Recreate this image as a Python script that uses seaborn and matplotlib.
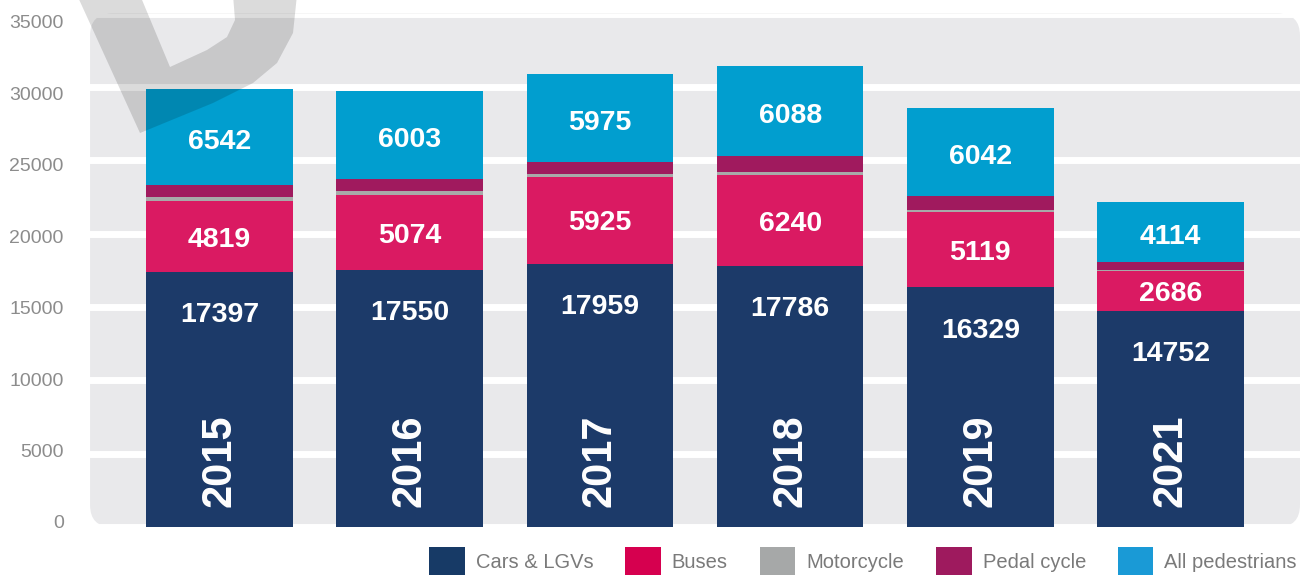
import pandas as pd
import seaborn as sns
import matplotlib.pyplot as plt
from matplotlib.patches import FancyBboxPatch, Polygon, Patch

# Dados por ano
anos = ['2015', '2016', '2017', '2018', '2019', '2021']
carros = [17397, 17550, 17959, 17786, 16329, 14752]
onibus = [4819, 5074, 5925, 6240, 5119, 2686]
motos = [270, 270, 200, 200, 140, 70]
bicicletas = [820, 820, 820, 1090, 950, 540]
pedestres = [6542, 6003, 5975, 6088, 6042, 4114]

df = pd.DataFrame({'ano': anos, 'carros': carros, 'onibus': onibus,
                   'motos': motos, 'bicicletas': bicicletas, 'pedestres': pedestres})
colunas = ['carros', 'onibus', 'motos', 'bicicletas', 'pedestres']
acumulado = df[colunas].cumsum(axis=1)

cores_barras = {'carros': '#1C3A69', 'onibus': '#DA1A62', 'motos': '#A8A9A9',
                'bicicletas': '#A01A5E', 'pedestres': '#019ECF'}
legenda = [('Cars & LGVs', '#173A66'), ('Buses', '#D6004F'), ('Motorcycle', '#A6A8A8'),
           ('Pedal cycle', '#9E1A5E'), ('All pedestrians', '#1A9AD6')]

fig = plt.figure(figsize=(13.09, 5.76), dpi=100, facecolor='white')
ax = fig.add_axes([0.0688, 0.0851, 0.9243, 0.8913])
ax.patch.set_visible(False)

# Fundo cinza com cantos arredondados
pos = ax.get_position()
W, H = fig.get_size_inches()
painel = FancyBboxPatch((pos.x0 * W, pos.y0 * H), pos.width * W, pos.height * H,
                        boxstyle='round,pad=0,rounding_size=0.22',
                        transform=fig.dpi_scale_trans, fc='#E9E9EB', ec='none', zorder=-1)
fig.add_artist(painel)

# Barras empilhadas: desenha do total para baixo
for col in reversed(colunas):
    sns.barplot(x=df['ano'], y=acumulado[col], color=cores_barras[col], width=0.77,
                saturation=1, errorbar=None, linewidth=0, ax=ax)

ax.set_xlim(-0.68, 5.68)
ax.set_ylim(0, 35000)
ax.set_yticks(range(0, 35001, 5000))
ax.set_xticks([])
ax.set_xlabel('')
ax.set_ylabel('')
sns.despine(ax=ax, left=True, bottom=True)
ax.yaxis.grid(True, color='white', linewidth=5)
ax.set_axisbelow(True)
ax.tick_params(axis='y', length=0, labelleft=False)

# Eixo so para os rotulos do eixo y (na imagem original ficam um pouco fora das linhas)
ax_lbl = fig.add_axes([0.0688, 54 / 576, 0.9243, 500 / 576])
ax_lbl.patch.set_visible(False)
ax_lbl.set_ylim(0, 35000)
ax_lbl.set_yticks(range(0, 35001, 5000))
ax_lbl.set_xticks([])
for s in ax_lbl.spines.values():
    s.set_visible(False)
ax_lbl.tick_params(axis='y', length=0, pad=19, labelsize=14, labelcolor='#8C8C8C')
for lbl in ax_lbl.get_yticklabels():
    lbl.set_fontfamily('Liberation Sans')

# Rotulos dos segmentos
fonte = dict(ha='center', va='center', color='white', fontsize=20.5,
             fontweight='bold', family='Liberation Sans')
for i in range(len(anos)):
    base_ped = acumulado['bicicletas'][i]
    ax.text(i, base_ped + pedestres[i] / 2 - 330, f'{pedestres[i]}', **fonte)
    ax.text(i, carros[i] + onibus[i] / 2 - 230, f'{onibus[i]}', **fonte)
    ax.text(i, carros[i] - 2950, f'{carros[i]}', **fonte)
    ax.text(i, 4500, anos[i], rotation=90, ha='center', va='center', color='white',
            fontsize=30, fontweight='bold', family=['Liberation Sans Narrow', 'Liberation Sans'])

# Legenda
handles = [Patch(fc=c, ec='none', label=n) for n, c in legenda]
fig.legend(handles=handles, ncol=5, loc='center right', bbox_to_anchor=(1297 / 1309, 0.026),
           frameon=False, prop={'family': 'Liberation Sans', 'size': 14.5}, labelcolor='#7A7A7A',
           handlelength=1.75, handleheight=1.75, handletextpad=0.55, columnspacing=1.6,
           borderpad=0, borderaxespad=0)

# Marca d'agua no canto superior esquerdo
pts = [(77, -5), (140, 133), (213, 103), (253, 83), (277, 63), (293, 33), (297, -5),
       (233, -5), (235, 20), (227, 37), (207, 50), (170, 67), (140, -5)]
marca = Polygon([(x / 1309, 1 - y / 576) for x, y in pts], closed=True,
                transform=fig.transFigure, fc='black', ec='none', alpha=0.14, zorder=10)
fig.add_artist(marca)

plt.savefig('out.png', dpi=100)
plt.close()
